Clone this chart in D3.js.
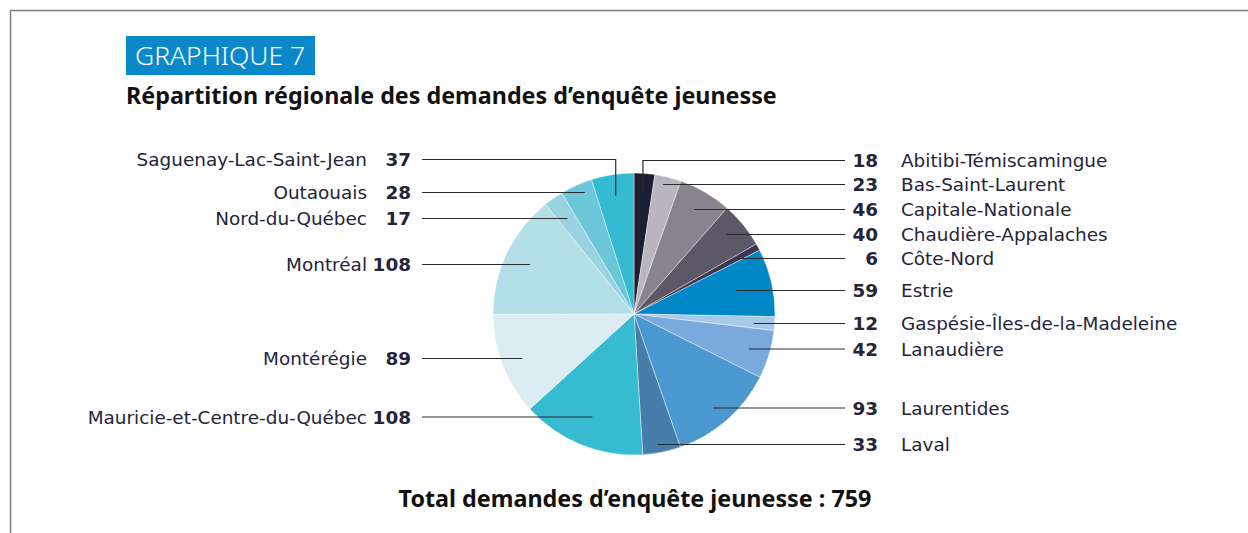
<!DOCTYPE html>
<html>
<head>
<meta charset="utf-8">
<script src="https://cdn.jsdelivr.net/npm/d3@7"></script>
<style>
  html, body { margin: 0; padding: 0; background: #ffffff; }
  svg { display: block; }
</style>
</head>
<body>
<svg id="chart" width="1248" height="533"></svg>
<script>
// ---- data ----
const regions = [
  "Abitibi-Témiscamingue", "Bas-Saint-Laurent", "Capitale-Nationale",
  "Chaudière-Appalaches", "Côte-Nord", "Estrie", "Gaspésie-Îles-de-la-Madeleine",
  "Lanaudière", "Laurentides", "Laval", "Mauricie-et-Centre-du-Québec",
  "Montérégie", "Montréal", "Nord-du-Québec", "Outaouais", "Saguenay-Lac-Saint-Jean"
];
const values = [18, 23, 46, 40, 6, 59, 12, 42, 93, 33, 108, 89, 108, 17, 28, 37];
const sliceColors = [
  "#1e1e32", "#b9b6bf", "#89838f", "#5d5867", "#3b3752", "#0087c7", "#a9c9ea",
  "#79aadb", "#4b97d0", "#477ea9", "#36bbd0", "#dbedf3", "#b5dfe8", "#98d3df",
  "#6bc6d8", "#34bad1"
];
const chartLabel = "GRAPHIQUE 7";
const chartTitle = "Répartition régionale des demandes d’enquête jeunesse";
const totalLabel = "Total demandes d’enquête jeunesse : ";

// ---- layout (annotation placement) ----
const labelY = [160.5, 184.5, 209.5, 234.5, 258.5, 290.5, 323.5, 349, 408, 444.5,
                417, 358.5, 264.5, 218.5, 192.5, 159.5];
const cx = 634, cy = 314, R = 141;
const font = "'Noto Sans', 'Open Sans', 'DejaVu Sans', sans-serif";
const labelFont = "'DejaVu Sans', 'Noto Sans', sans-serif";
const textColor = "#24243c";

const svg = d3.select("#chart");

// fit a text element's font size so that it spans the target width
function fit(sel, target, maxSize) {
  const w = sel.node().getComputedTextLength();
  const fs = parseFloat(sel.attr("font-size"));
  let s = fs * target / w;
  if (maxSize) s = Math.min(s, maxSize);
  sel.attr("font-size", s.toFixed(2));
  return s;
}

// frame
svg.append("path")
  .attr("d", "M10.5,533 L10.5,10.5 L1248,10.5")
  .attr("fill", "none").attr("stroke", "#7f7f7f").attr("stroke-width", 1.5);

// tag
svg.append("rect").attr("x", 126).attr("y", 36).attr("width", 189).attr("height", 39)
  .attr("fill", "#0a88c9");
const tag = svg.append("text").attr("x", 135).attr("y", 65)
  .attr("font-family", font).attr("font-weight", 300).attr("font-size", 24)
  .attr("fill", "#ffffff").text(chartLabel);
fit(tag, 170);

// title
const title = svg.append("text").attr("x", 126).attr("y", 104)
  .attr("font-family", font).attr("font-weight", 700).attr("font-size", 20)
  .attr("fill", "#111111").text(chartTitle);
fit(title, 651);

// pie
const pie = d3.pie().sort(null).value(d => d)(values);
const arc = d3.arc().innerRadius(0).outerRadius(R);
const g = svg.append("g").attr("transform", `translate(${cx},${cy})`);
g.selectAll("path").data(pie).join("path")
  .attr("d", arc)
  .attr("fill", (d, i) => sliceColors[i])
  .attr("stroke", "#ffffff").attr("stroke-width", 0.6).attr("stroke-opacity", 0.7);

// label font size, fitted on the first region name
const probe = svg.append("text").attr("font-family", labelFont).attr("font-size", 16).text(regions[0]);
const labelSize = fit(probe, 206.5, 18.5);
probe.remove();

// leaders + labels
const maxT = 0.85 * R;
const leaders = svg.append("g");
const labels = svg.append("g").attr("font-family", labelFont).attr("font-size", labelSize).attr("fill", textColor);
const total = d3.sum(values);

pie.forEach((d, i) => {
  const a = (d.startAngle + d.endAngle) / 2;
  const sx = Math.sin(a), sy = -Math.cos(a);
  const right = a < Math.PI;
  const y = labelY[i];
  let path;
  const dy = y - cy;
  let t = Math.abs(sy) > 1e-6 ? dy / sy : maxT;
  const lineEnd = right ? 845 : 422;
  if (Math.abs(a) < 0.2 || Math.abs(a - 2 * Math.PI) < 0.2) {
    const ax = cx + sx * maxT, ay = cy + sy * maxT;
    path = `M${ax},${ay} L${ax},${y} L${lineEnd},${y}`;
  } else {
    t = Math.min(t, maxT);
    const ax = cx + sx * t;
    path = `M${ax},${y} L${lineEnd},${y}`;
  }
  leaders.append("path").attr("d", path).attr("fill", "none")
    .attr("stroke", "#2a2a2a").attr("stroke-width", 1.2);

  if (right) {
    labels.append("text").attr("x", 878).attr("y", y).attr("dy", "0.36em")
      .attr("text-anchor", "end").attr("font-weight", 700).text(values[i]);
    labels.append("text").attr("x", 901).attr("y", y).attr("dy", "0.36em")
      .text(regions[i]);
  } else {
    labels.append("text").attr("x", 411).attr("y", y).attr("dy", "0.36em")
      .attr("text-anchor", "end").attr("font-weight", 700).text(values[i]);
    labels.append("text").attr("x", 367).attr("y", y).attr("dy", "0.36em")
      .attr("text-anchor", "end").text(regions[i]);
  }
});

// total
const tot = svg.append("text").attr("x", 635).attr("y", 507).attr("text-anchor", "middle")
  .attr("font-family", font).attr("font-weight", 700).attr("font-size", 19)
  .attr("fill", "#111111").text(totalLabel + total);
fit(tot, 473);
</script>
</body>
</html>
